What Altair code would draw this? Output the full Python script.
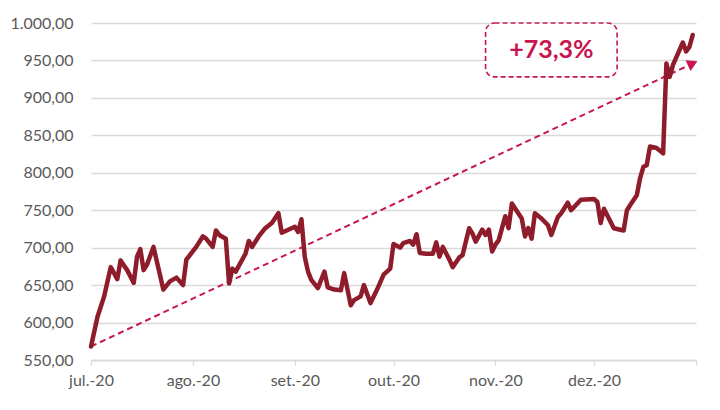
import altair as alt
import pandas as pd

# ---- series data ----
dates = [
    "2020-07-01", "2020-07-03", "2020-07-05", "2020-07-07", "2020-07-09", "2020-07-10",
    "2020-07-12", "2020-07-14", "2020-07-15", "2020-07-16", "2020-07-17", "2020-07-18",
    "2020-07-20", "2020-07-23", "2020-07-25", "2020-07-27", "2020-07-29", "2020-07-30",
    "2020-08-02", "2020-08-04", "2020-08-05", "2020-08-07", "2020-08-08", "2020-08-09",
    "2020-08-11", "2020-08-12", "2020-08-13", "2020-08-14", "2020-08-17", "2020-08-18",
    "2020-08-19", "2020-08-21", "2020-08-23", "2020-08-25", "2020-08-27", "2020-08-28",
    "2020-08-31", "2020-09-01", "2020-09-02", "2020-09-03",
    "2020-09-04", "2020-09-05", "2020-09-06", "2020-09-08", "2020-09-10", "2020-09-11",
    "2020-09-13", "2020-09-15", "2020-09-16", "2020-09-18", "2020-09-19", "2020-09-21",
    "2020-09-22", "2020-09-24", "2020-09-26", "2020-09-28", "2020-09-30", "2020-10-01",
    "2020-10-03", "2020-10-04", "2020-10-06", "2020-10-07", "2020-10-08", "2020-10-09",
    "2020-10-11", "2020-10-13", "2020-10-14", "2020-10-15", "2020-10-16", "2020-10-18",
    "2020-10-19", "2020-10-21", "2020-10-22", "2020-10-24", "2020-10-25", "2020-10-26",
    "2020-10-28", "2020-10-29", "2020-10-30", "2020-10-31",
    "2020-11-01", "2020-11-02", "2020-11-03", "2020-11-04", "2020-11-05", "2020-11-06",
    "2020-11-09", "2020-11-10", "2020-11-11", "2020-11-12", "2020-11-13", "2020-11-15",
    "2020-11-17", "2020-11-18", "2020-11-20", "2020-11-21", "2020-11-23", "2020-11-24",
    "2020-11-27", "2020-12-01", "2020-12-02", "2020-12-03", "2020-12-04",
    "2020-12-07", "2020-12-10", "2020-12-11", "2020-12-12", "2020-12-14", "2020-12-15",
    "2020-12-16", "2020-12-17", "2020-12-18", "2020-12-20", "2020-12-22", "2020-12-23",
    "2020-12-24", "2020-12-25", "2020-12-27", "2020-12-28", "2020-12-29", "2020-12-30",
    "2020-12-31",
]

values = [
    568, 608, 635, 674, 658, 683, 670, 653, 688, 698, 670, 677, 701, 644, 655, 660, 650, 684,
    701, 715, 712, 701, 723, 717, 712, 652, 672, 668, 692, 709, 701, 715, 726, 733, 746, 720,
    726, 728, 721, 738,
    688, 668, 657, 646, 668, 647, 644, 643, 666, 623, 630, 635, 650, 626, 644, 664, 672, 705,
    700, 706, 709, 704, 718, 693, 692, 692, 707, 688, 701, 684, 674, 687, 690, 726, 719, 708,
    724, 717, 724, 695,
    704, 710, 726, 742, 726, 759, 739, 715, 726, 712, 746, 739, 730, 717, 741, 746, 760, 750,
    764, 765, 761, 733, 752,
    726, 723, 750, 757, 770, 793, 808, 810, 835, 833, 826, 946, 928, 944, 964, 974, 962, 968,
    984,
]

# ---- annotation ----
trend_dates = ["2020-07-01", "2020-12-31"]
trend_values = [568, 946]
label_text = "+73,3%"
box_dates = ["2020-10-29", "2020-12-08"]
box_values = [928, 1000]
label_date = "2020-11-18"
label_value = 964

y_ticks = [550, 600, 650, 700, 750, 800, 850, 900, 950, 1000]
month_ticks = [(2020, 7), (2020, 8), (2020, 9), (2020, 10), (2020, 11), (2020, 12), (2021, 1)]

LINE_COLOR = "#8e1c2b"
ACCENT = "#c8174f"
GRID = "#d9d9d9"
LABEL = "#595959"
FONT = "Lato"

series = pd.DataFrame({"date": dates, "value": values})
trend = pd.DataFrame({"date": trend_dates, "value": trend_values})
tip = pd.DataFrame({"date": [trend_dates[-1]], "value": [trend_values[-1]]})
box = pd.DataFrame({"date": [box_dates[0]], "d2": [box_dates[1]],
                    "value": [box_values[0]], "v2": [box_values[1]]})
lab = pd.DataFrame({"date": [label_date], "value": [label_value], "text": [label_text]})

xscale = alt.Scale(type="utc",
                   domain=[alt.DateTime(year=2020, month=7, date=1, utc=True),
                           alt.DateTime(year=2021, month=1, date=1, utc=True)])
yscale = alt.Scale(domain=[550, 1000], nice=False, zero=False)

month_expr = ("utcyear(datum.value) > 2020 ? '' : "
              "['jan.','fev.','mar.','abr.','mai.','jun.','jul.','ago.','set.','out.','nov.','dez.']"
              "[utcmonth(datum.value)] + '-' + utcFormat(datum.value, '%y')")
num_expr = ("replace(replace(replace(format(datum.value, ',.2f'), ',', 'T'), '.', ','), 'T', '.')")

x_axis = alt.Axis(values=[alt.DateTime(year=y, month=m, date=1, utc=True) for y, m in month_ticks],
                  labelExpr=month_expr, grid=False, domain=True, domainColor=GRID,
                  domainWidth=1.3, ticks=True, tickColor=GRID, tickSize=5, tickWidth=1.3,
                  labelPadding=7, labelColor=LABEL, labelFontSize=16, labelFont=FONT,
                  labelFlush=False, labelOverlap=False, title=None)
y_axis = alt.Axis(values=y_ticks, labelExpr=num_expr, grid=True, gridColor=GRID,
                  gridWidth=1.3, domain=False, ticks=False, labelPadding=18,
                  labelColor=LABEL, labelFontSize=16, labelFont=FONT,
                  labelOverlap=False, labelFlush=False, title=None)

X = alt.X("date:T", scale=xscale, axis=x_axis)
Y = alt.Y("value:Q", scale=yscale, axis=y_axis)

trend_line = alt.Chart(trend).mark_line(color=ACCENT, strokeWidth=2, strokeDash=[6, 4]).encode(
    x=X, y=Y)

line = alt.Chart(series).mark_line(color=LINE_COLOR, strokeWidth=4.5, strokeJoin="round",
                                   strokeCap="round").encode(x=X, y=Y)

arrow = alt.Chart(tip).mark_point(shape="triangle-right", filled=True, size=140, angle=335,
                                  color=ACCENT, opacity=1).encode(x=X, y=Y)

box_mark = alt.Chart(box).mark_rect(fill="white", stroke=ACCENT, strokeWidth=1.6,
                                    strokeDash=[5, 3], cornerRadius=9).encode(
    x=X, x2="d2:T", y=Y, y2="v2:Q")

text = alt.Chart(lab).mark_text(font=FONT, fontWeight="bold", fontSize=25, color=ACCENT,
                                align="center", baseline="middle").encode(
    x=X, y=Y, text="text:N")

chart = alt.layer(trend_line, line, arrow, box_mark, text).properties(
    width=605, height=337,
    autosize=alt.AutoSizeParams(type="none"),
    padding={"left": 83, "top": 15, "right": 16, "bottom": 42},
    background="white",
).configure_view(stroke=None)

chart.save("out.html", embed_options={"renderer": "svg", "actions": False})
